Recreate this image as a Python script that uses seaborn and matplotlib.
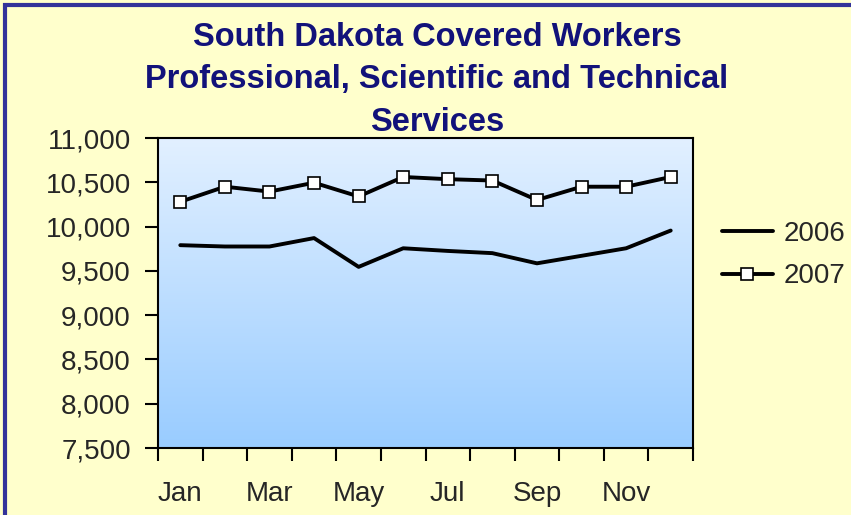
import numpy as np
import pandas as pd
import matplotlib
matplotlib.use("Agg")
import matplotlib.pyplot as plt
import seaborn as sns
from matplotlib.patches import Rectangle
from matplotlib.lines import Line2D
from matplotlib.colors import LinearSegmentedColormap

months = ["Jan", "Feb", "Mar", "Apr", "May", "Jun", "Jul", "Aug", "Sep", "Oct", "Nov", "Dec"]
tick_months = ["Jan", "Mar", "May", "Jul", "Sep", "Nov"]
y2006 = [9790, 9775, 9775, 9870, 9545, 9755, 9725, 9700, 9585, 9670, 9755, 9955]
y2007 = [10280, 10450, 10395, 10495, 10340, 10560, 10535, 10520, 10300, 10450, 10450, 10560]
yticks = [7500, 8000, 8500, 9000, 9500, 10000, 10500, 11000]

sns.set_style("white")
plt.rcParams['font.family'] = ['Liberation Sans', 'DejaVu Sans']

df = pd.DataFrame({"pos": list(range(12)) * 2,
                   "value": y2006 + y2007,
                   "year": ["2006"] * 12 + ["2007"] * 12})

fig = plt.figure(figsize=(8.51, 5.15), dpi=100)
fig.patch.set_facecolor("#FFFFCC")
fig.patches.append(Rectangle((5 / 851, -0.05), 1.2, 1 - 5 / 515 + 0.05, transform=fig.transFigure,
                             fill=False, edgecolor="#33339A", linewidth=3, zorder=10))

ax = fig.add_axes([158 / 851, 1 - 448 / 515, (693 - 158) / 851, (448 - 138) / 515])
grad = np.linspace(0, 1, 256).reshape(-1, 1)
cmap = LinearSegmentedColormap.from_list("bg", ["#99CCFF", "#E2F0FF"])
ax.imshow(grad, aspect="auto", cmap=cmap, origin="lower", extent=[0, 1, 0, 1],
          transform=ax.transAxes, zorder=0)

d06 = df[df.year == "2006"]
d07 = df[df.year == "2007"]
sns.lineplot(data=d06, x="pos", y="value", ax=ax, color="black", linewidth=2.8, zorder=3)
sns.lineplot(data=d07, x="pos", y="value", ax=ax, color="black", linewidth=2.8, zorder=3,
             marker="s", markersize=8, markerfacecolor="white", markeredgecolor="black",
             markeredgewidth=1.2)

ax.set_xlim(-0.5, 11.5)
ax.set_ylim(7500, 11000)
ax.set_xlabel("")
ax.set_ylabel("")
ax.set_xticks(np.arange(-0.5, 12, 1))
ax.set_xticklabels([])
ax.set_xticks([months.index(m) for m in tick_months], minor=True)
ax.set_xticklabels(tick_months, minor=True)
ax.tick_params(axis="x", which="major", direction="out", length=9.5, width=1.5, color="black", bottom=True)
ax.tick_params(axis="x", which="minor", length=0, pad=24, labelsize=20, bottom=False)
ax.set_yticks(yticks)
ax.set_yticklabels([f"{v:,}" for v in yticks])
ax.tick_params(axis="y", direction="out", length=9.5, width=1.5, color="black", left=True, labelsize=20, pad=10)
for s in ax.spines.values():
    s.set_color("black")
    s.set_linewidth(1.5)

title_kw = dict(ha="center", va="center", color="#12127A", fontsize=23.5, fontweight="bold")
fig.text(437 / 851, 1 - 37 / 515, "South Dakota Covered Workers", **title_kw)
fig.text(437 / 851, 1 - 79 / 515, "Professional, Scientific and Technical", **title_kw)
fig.text(437 / 851, 1 - 123 / 515, "Services", **title_kw)

handles = [Line2D([], [], color="black", linewidth=2.8),
           Line2D([], [], color="black", linewidth=2.8, marker="s", markersize=8,
                  markerfacecolor="white", markeredgecolor="black", markeredgewidth=1.2)]
fig.legend(handles, ["2006", "2007"], loc="center left", bbox_to_anchor=(722 / 851, 1 - 255 / 515),
           frameon=False, fontsize=20, handlelength=1.83, handletextpad=0.4, labelspacing=0.6,
           borderpad=0, borderaxespad=0)

fig.savefig("out.png", dpi=100, facecolor=fig.get_facecolor())
